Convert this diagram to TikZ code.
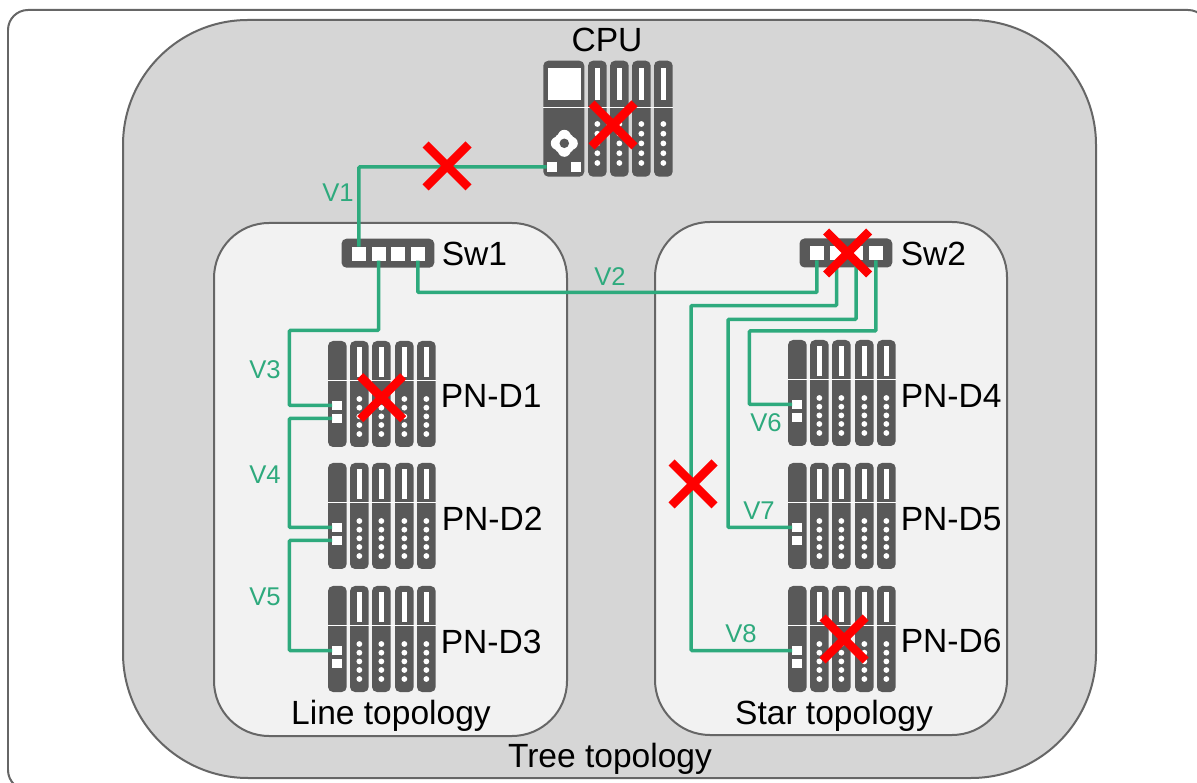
\documentclass[tikz,border=0pt]{standalone}
\usepackage{fontspec}
\setmainfont{Liberation Sans}
\usetikzlibrary{shapes.misc}
\definecolor{darkgear}{RGB}{89,89,89}
\definecolor{treegray}{RGB}{214,214,214}
\definecolor{boxgray}{RGB}{242,242,242}
\definecolor{edgegray}{RGB}{102,102,102}
\definecolor{linkgreen}{RGB}{46,170,125}

\tikzset{
	topobox/.style={draw=edgegray, line width=.04cm},
	modulebody/.style={fill=darkgear, rounded corners=.1cm},
	portbox/.style={fill=white, inner sep=0pt, outer sep=0pt},
	linkline/.style={draw=linkgreen, line width=.07cm, rounded corners=.02cm},
	linklabel/.style={text=linkgreen, font=\fontsize{14.6}{16}\selectfont, inner sep=0pt},
	biglabel/.style={text=black, font=\fontsize{19.1}{22}\selectfont, inner sep=0pt},
	crossmark/.style={cross out, draw=red, line width=.17cm, minimum size=.86cm, inner sep=0pt, outer sep=0pt}
}

\newcommand{\devicerack}[3]{
	\begin{scope}[shift={(#2,#3)}]
		\foreach \mx in {0,22,44,67,89} {
			\fill[modulebody] (\mx,0) rectangle ++(18.7,106);
		}
		\foreach \mx in {22,44,67,89} {
			\fill[white] (\mx+6.9,6) rectangle ++(5,30);
			\foreach \my in {58,66.7,75.4,84,93} {
				\fill[white] (\mx+9.35,\my) circle (.058cm);
			}
		}
		\draw[white, line width=.03cm] (0,39.7) -- (108,39.7);
		\node[portbox, minimum width=.2cm, minimum height=.17cm] (#1-p1) at (9,64.5) {};
		\node[portbox, minimum width=.2cm, minimum height=.18cm] (#1-p2) at (9,77.5) {};
	\end{scope}
}

\newcommand{\netswitch}[3]{
	\begin{scope}[shift={(#2,#3)}]
		\fill[modulebody] (0,0) rectangle ++(92.8,29);
		\node[portbox, minimum size=.28cm] (#1-p1) at (17.3,15) {};
		\node[portbox, minimum size=.28cm] (#1-p2) at (37,15) {};
		\node[portbox, minimum size=.28cm] (#1-p3) at (56.7,15) {};
		\node[portbox, minimum size=.28cm] (#1-p4) at (76.3,15) {};
	\end{scope}
}

\begin{document}
\begin{tikzpicture}[x=.02cm, y=-.02cm]

	\useasboundingbox (0,0) rectangle (1197,783);

	\draw[topobox, fill=white, rounded corners=.4cm] (8,10) rectangle (1208,790);
	\draw[topobox, fill=treegray, rounded corners=2.5cm] (123,20) rectangle (1096,778);
	\draw[topobox, fill=boxgray, rounded corners=1.1cm] (214,223) rectangle (567,736);
	\draw[topobox, fill=boxgray, rounded corners=1.1cm] (655,222) rectangle (1007,735);

	% cpu
	\fill[modulebody] (543.3,60.7) rectangle (584.3,176.7);
	\foreach \mx in {588,610,632,654} {
		\fill[modulebody] (\mx,60.7) rectangle ++(18.7,116);
		\fill[white] (\mx+6.9,67.7) rectangle ++(5,32.3);
		\foreach \my in {124,133.7,143.4,153.2,163} {
			\fill[white] (\mx+9.35,\my) circle (.058cm);
		}
	}
	\draw[white, line width=.03cm] (543,107.7) -- (673,107.7);
	\fill[white] (548.3,67.7) rectangle (580.7,100);
	\fill[white] (564.3,143.3) circle (.22cm);
	\foreach \gx/\gy in {7/0,-7/0,0/7,0/-7} {
		\fill[white] (564.3+\gx,143.3+\gy) circle (.13cm);
	}
	\fill[darkgear] (564.3,143.3) circle (.095cm);
	\node[portbox, minimum size=.2cm] (cpu-p1) at (551.7,167) {};
	\node[portbox, minimum size=.2cm] (cpu-p2) at (576.3,167) {};

	\netswitch{sw1}{341.5}{238.7}
	\netswitch{sw2}{799.5}{238.5}

	\devicerack{d1}{328}{341}
	\devicerack{d2}{328}{463}
	\devicerack{d3}{328}{586}
	\devicerack{d4}{788}{340}
	\devicerack{d5}{788}{463}
	\devicerack{d6}{788}{586}

	\draw[linkline] (cpu-p1.west) -| (sw1-p1.north);
	\draw[linkline] (sw1-p4.south) |- (600,292.5) -| (sw2-p1.south);
	\draw[linkline] (sw1-p2.south) |- (289.3,330.5) |- (d1-p1.west);
	\draw[linkline] (d1-p2.west) -| (289.3,470) |- (d2-p1.west);
	\draw[linkline] (d2-p2.west) -| (289.3,600) |- (d3-p1.west);
	\draw[linkline] (sw2-p2.south) |- (691,305.7) |- (d6-p1.west);
	\draw[linkline] (sw2-p3.south) |- (728,319.3) |- (d5-p1.west);
	\draw[linkline] (sw2-p4.south) |- (749.3,331) |- (d4-p1.west);

	\node[crossmark] (x1) at (613,125) {};
	\node[crossmark] (x2) at (447,166) {};
	\node[crossmark] (x3) at (847.7,253) {};
	\node[crossmark] (x4) at (381.7,397.7) {};
	\node[crossmark] (x5) at (693,484) {};
	\node[crossmark] (x6) at (844,639) {};

	\node[linklabel] (v1) at (338,193) {V1};
	\node[linklabel] (v2) at (610,277) {V2};
	\node[linklabel] (v3) at (265,370) {V3};
	\node[linklabel] (v4) at (265,475) {V4};
	\node[linklabel] (v5) at (265,597) {V5};
	\node[linklabel] (v6) at (766,423) {V6};
	\node[linklabel] (v7) at (759,511) {V7};
	\node[linklabel] (v8) at (741,634) {V8};

	\node[biglabel] (cpu) at (607,40) {CPU};
	\node[biglabel, anchor=west] (sw1) at (441.5,254) {Sw1};
	\node[biglabel, anchor=west] (sw2) at (900.5,254) {Sw2};
	\node[biglabel, anchor=west] (d1) at (440.5,396) {PN-D1};
	\node[biglabel, anchor=west] (d2) at (441.5,519) {PN-D2};
	\node[biglabel, anchor=west] (d3) at (440.5,642) {PN-D3};
	\node[biglabel, anchor=west] (d4) at (900.5,396) {PN-D4};
	\node[biglabel, anchor=west] (d5) at (900.5,519) {PN-D5};
	\node[biglabel, anchor=west] (d6) at (900.5,641) {PN-D6};
	\node[biglabel] (line) at (391,716) {Line topology};
	\node[biglabel] (star) at (834,716) {Star topology};
	\node[biglabel] (tree) at (610,759) {Tree topology};

\end{tikzpicture}
\end{document}
